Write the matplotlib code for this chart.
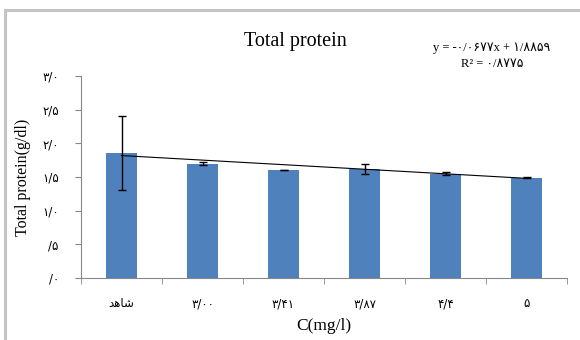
import numpy as np
import matplotlib.pyplot as plt
from matplotlib.patches import Rectangle

# data
categories = ["\uFEAA\uFEEB\uFE8E\uFEB7", "۳/۰۰", "۳/۴۱", "۳/۸۷", "۴/۴", "۵"]  # شاهد, then concentrations
protein = [1.86, 1.70, 1.60, 1.62, 1.55, 1.49]
errors = [0.55, 0.02, 0.0, 0.075, 0.02, 0.01]
slope, intercept = -0.0677, 1.8859
y_ticks = [0, 0.5, 1.0, 1.5, 2.0, 2.5, 3.0]
y_labels = ["/۰", "/۵", "۱/۰", "۱/۵", "۲/۰", "۲/۵", "۳/۰"]

fonts = ["Liberation Serif", "DejaVu Sans"]
plt.rcParams["font.family"] = fonts

fig = plt.figure(figsize=(5.8, 3.4), dpi=100)
ax = fig.add_axes([0.1397, 0.1824, 0.8379, 0.5941])

# outer chart frame (Excel chart border)
fig.patches.append(Rectangle((5 / 580, -0.1), 1.1, 1 - 10 / 340 + 0.1,
                             transform=fig.transFigure, fill=False,
                             edgecolor="#c4c4c4", lw=2.2))

x = np.arange(1, len(categories) + 1)
ax.bar(x, protein, width=0.38, color="#4f81bd", zorder=2)
ax.errorbar(x, protein, yerr=errors, fmt="none", ecolor="black",
            elinewidth=1, capsize=3, capthick=1, zorder=3)

xs = np.array([x[0], x[-1]])
ax.plot(xs, slope * xs + intercept, color="black", lw=0.8, zorder=4)

ax.set_xlim(0.5, len(categories) + 0.5)
ax.set_ylim(0, 3.0)
ax.set_xticks(x)
ax.set_xticklabels(categories, fontsize=8.5, family=["DejaVu Sans"])
ax.set_xticks(np.arange(0.5, len(categories) + 1), minor=True)
ax.tick_params(axis="x", which="major", length=0, pad=14)
ax.tick_params(axis="x", which="minor", length=4, color="#888888")
ax.set_yticks(y_ticks)
ax.set_yticklabels(y_labels, fontsize=8.5, family=["DejaVu Sans"])
ax.tick_params(axis="y", length=4, color="#888888", pad=12)

for side in ["top", "right"]:
    ax.spines[side].set_visible(False)
for side in ["left", "bottom"]:
    ax.spines[side].set_color("#888888")

fig.text(324 / 580, 1 - 326 / 340, "C(mg/l)", fontsize=12.5, ha="center", va="center")
ax.set_ylabel("Total protein(g/dl)", fontsize=11.5, labelpad=8)
fig.text(0.51, 0.865, "Total protein", fontsize=14.5, ha="center")

fig.text(0.848, 0.85, "y = -۰/۰۶۷۷x + ۱/۸۸۵۹", fontsize=9, ha="center")
fig.text(0.848, 0.803, "R² = ۰/۸۷۷۵", fontsize=9, ha="center")

fig.savefig("out.png", dpi=100)
